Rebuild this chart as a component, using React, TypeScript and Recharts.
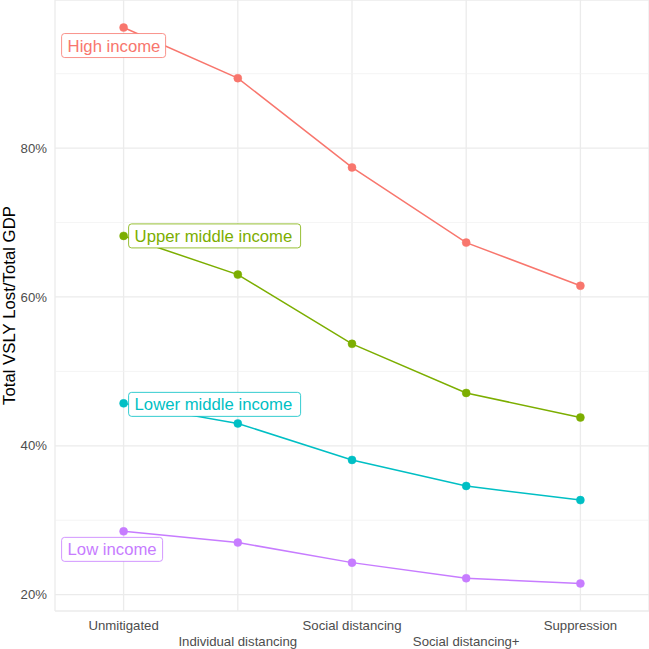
import { CartesianGrid, LabelList, Line, LineChart, ReferenceLine, XAxis, YAxis } from 'recharts';

const scenarios = ['Unmitigated', 'Individual distancing', 'Social distancing', 'Social distancing+', 'Suppression'];
const highIncome = [96.2, 89.4, 77.4, 67.3, 61.5];
const upperMiddleIncome = [68.2, 63.0, 53.7, 47.1, 43.8];
const lowerMiddleIncome = [45.7, 43.0, 38.1, 34.6, 32.7];
const lowIncome = [28.5, 27.0, 24.3, 22.2, 21.5];
const yTicks = [20, 40, 60, 80];
const yMinorTicks = [30, 50, 70, 90];

const data = scenarios.map((scenario, i) => ({
  scenario,
  high: highIncome[i],
  upperMiddle: upperMiddleIncome[i],
  lowerMiddle: lowerMiddleIncome[i],
  low: lowIncome[i],
}));

// label box placement relative to the first point (ggrepel-ish)
const series = [
  { key: 'high', name: 'High income', color: '#F8766D', boxX: -62, boxY: 6, boxW: 104 },
  { key: 'upperMiddle', name: 'Upper middle income', color: '#7CAE00', boxX: 5, boxY: -12, boxW: 172 },
  { key: 'lowerMiddle', name: 'Lower middle income', color: '#00BFC4', boxX: 5, boxY: -11, boxW: 172 },
  { key: 'low', name: 'Low income', color: '#C77CFF', boxX: -62, boxY: 6, boxW: 101 },
];

const FONT = '"Liberation Sans", Arial, Helvetica, sans-serif';

const XTick = (props: any) => {
  const { x, y, payload, index } = props;
  const dy = index % 2 === 1 ? 35 : 19;
  return (
    <text x={x} y={y + dy} textAnchor='middle' fill='#4d4d4d' fontSize={13.2} fontFamily={FONT}>
      {payload.value}
    </text>
  );
};

const makeLabel = (s: (typeof series)[number]) => (props: any) => {
  const { x, y, index } = props;
  if (index !== 0) return null;
  const left = x + s.boxX;
  const top = y + s.boxY;
  return (
    <g>
      <rect x={left} y={top} width={s.boxW} height={24} rx={3} ry={3} fill='#fff' stroke={s.color} strokeWidth={0.8} />
      <text x={left + 6} y={top + 18} fill={s.color} fontSize={16.7} fontFamily={FONT}>
        {s.name}
      </text>
    </g>
  );
};

const YLabel = (props: any) => {
  const { viewBox } = props;
  const cx = 9;
  const cy = viewBox.y + viewBox.height / 2;
  return (
    <text x={cx} y={cy} transform={`rotate(-90 ${cx} ${cy})`} textAnchor='middle' dominantBaseline='central' fill='#000' fontSize={16.8} fontFamily={FONT}>
      Total VSLY Lost/Total GDP
    </text>
  );
};

export default function App() {
  return (
    <div style={{ position: 'absolute', left: 0, top: 0, background: '#fff' }}>
      <LineChart width={649} height={649} data={data} margin={{ top: 0, right: 0, bottom: 0, left: 0 }}>
        <CartesianGrid stroke='#ebebeb' strokeWidth={1.3} />
        {yMinorTicks.map((v) => (
          <ReferenceLine key={v} y={v} stroke='#f1f1f1' strokeWidth={0.8} />
        ))}
        <XAxis
          dataKey='scenario'
          height={38}
          padding={{ left: 68.6, right: 68.6 }}
          axisLine={false}
          tickLine={false}
          tickSize={0}
          tickMargin={0}
          interval={0}
          tick={<XTick />}
        />
        <YAxis
          width={55}
          domain={[17.8, 99.9]}
          ticks={yTicks}
          allowDataOverflow
          axisLine={false}
          tickLine={false}
          tickSize={0}
          tickMargin={8}
          tickFormatter={(v: number) => `${v}%`}
          tick={{ fill: '#4d4d4d', fontSize: 13.2, fontFamily: FONT }}
          label={<YLabel />}
        />
        {series.map((s) => (
          <Line
            key={s.key}
            dataKey={s.key}
            name={s.name}
            stroke={s.color}
            strokeWidth={1.5}
            dot={{ r: 4, fill: s.color, stroke: s.color, strokeWidth: 0.5 }}
            activeDot={false}
            isAnimationActive={false}
          >
            <LabelList dataKey={s.key} content={makeLabel(s)} />
          </Line>
        ))}
      </LineChart>
    </div>
  );
}
